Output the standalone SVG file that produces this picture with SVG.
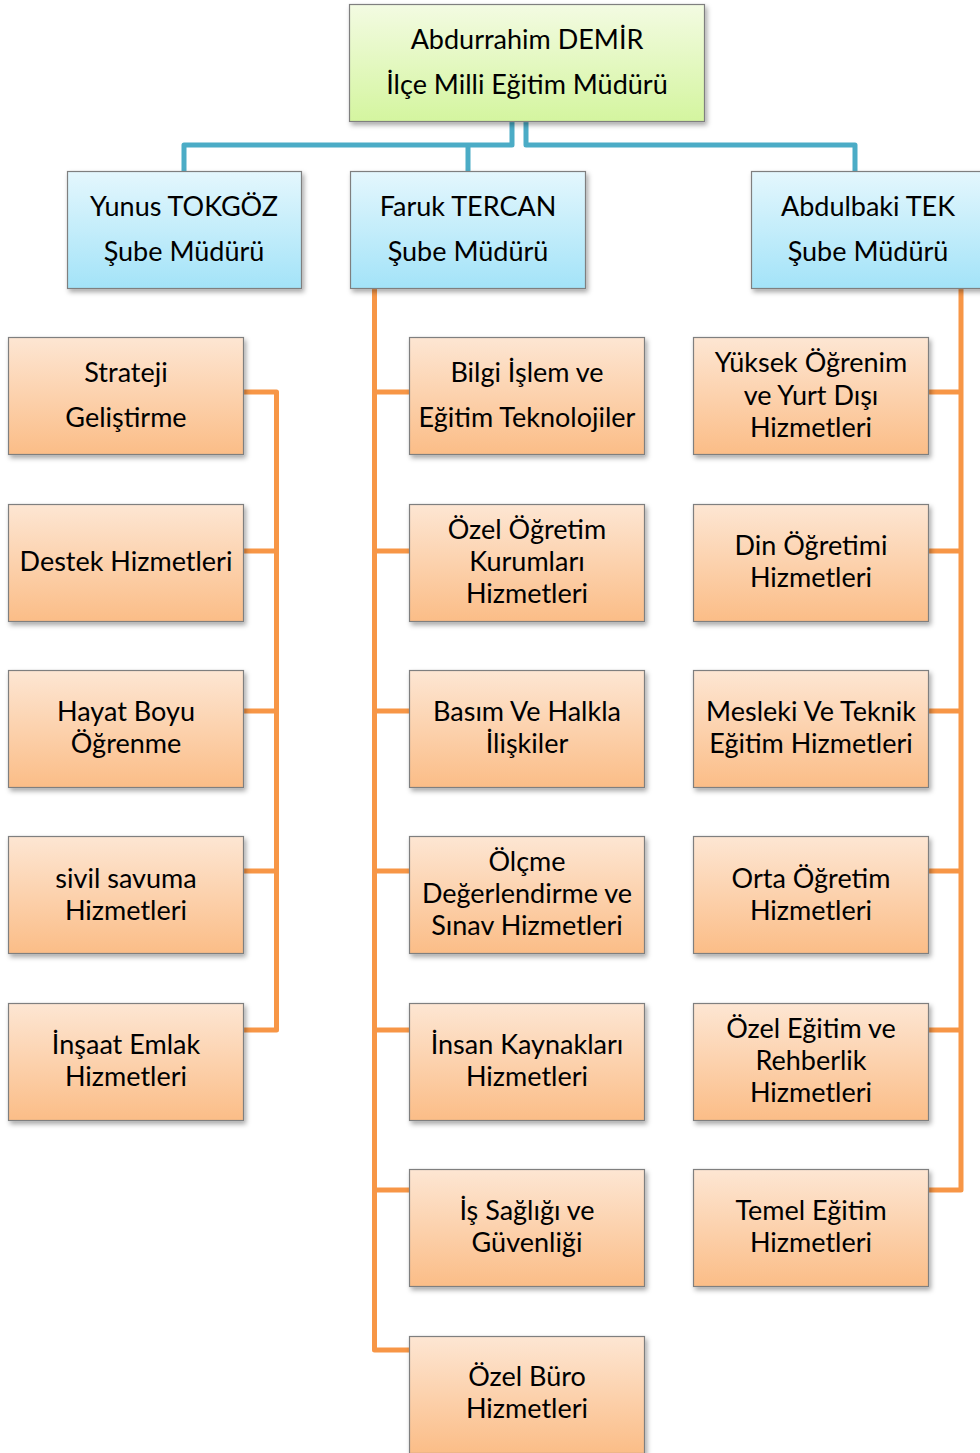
<svg xmlns="http://www.w3.org/2000/svg" width="980" height="1453" viewBox="0 0 980 1453">
<defs>
<linearGradient id="gG" x1="0" y1="0" x2="0" y2="1"><stop offset="0" stop-color="#f3fbe2"/><stop offset="1" stop-color="#d4f59f"/></linearGradient>
<linearGradient id="gB" x1="0" y1="0" x2="0" y2="1"><stop offset="0" stop-color="#e4f7fd"/><stop offset="1" stop-color="#a3e3f8"/></linearGradient>
<linearGradient id="gO" x1="0" y1="0" x2="0" y2="1"><stop offset="0" stop-color="#fde6d3"/><stop offset="1" stop-color="#fbbd87"/></linearGradient>
<filter id="sh" x="-10%" y="-10%" width="125%" height="135%"><feDropShadow dx="2" dy="3" stdDeviation="2.5" flood-color="#000" flood-opacity="0.35"/></filter>
</defs>
<style>
.box{stroke:#7f7f7f;stroke-width:1.2;filter:url(#sh)}
.g{fill:url(#gG)}.b{fill:url(#gB)}.o{fill:url(#gO)}
text{font-family:Lato,"Open Sans","Liberation Sans",sans-serif;font-size:27px;fill:#000;text-anchor:middle}
.cb{fill:none;stroke:#4bacc6;stroke-width:5;stroke-linejoin:round}
.co{fill:none;stroke:#f79646;stroke-width:5;stroke-linejoin:round}
</style>
<rect width="980" height="1453" fill="#fff"/>
<g id="connectors">
<path class="cb" d="M512,122V145H184V171M512,145H468V171M526,122V145H855V171"/>
<path class="co" d="M244,392H276.5V1030H244M244,551H276.5M244,711H276.5M244,871H276.5"/>
<path class="co" d="M374.5,289V1350H410M374.5,392H410M374.5,551H410M374.5,711H410M374.5,871H410M374.5,1030H410M374.5,1190H410"/>
<path class="co" d="M961,289V1190H928M928,392H961M928,551H961M928,711H961M928,871H961M928,1030H961"/>
</g>
<g id="n0"><rect class="box g" x="349.5" y="4.5" width="355" height="117"/><text x="527" y="49">Abdurrahim DEMİR</text><text x="527" y="94">İlçe Milli Eğitim Müdürü</text></g>
<g id="n1"><rect class="box b" x="67.5" y="171.5" width="234" height="117"/><text x="184" y="216">Yunus TOKGÖZ</text><text x="184" y="261">Şube Müdürü</text></g>
<g id="n2"><rect class="box b" x="350.5" y="171.5" width="235" height="117"/><text x="468" y="216">Faruk TERCAN</text><text x="468" y="261">Şube Müdürü</text></g>
<g id="n3"><rect class="box b" x="751.5" y="171.5" width="235" height="117"/><text x="868" y="216">Abdulbaki TEK</text><text x="868" y="261">Şube Müdürü</text></g>

<g id="l1"><rect class="box o" x="8.5" y="337.5" width="235" height="117"/><text x="126" y="382">Strateji</text><text x="126" y="427">Geliştirme</text></g>
<g id="l2"><rect class="box o" x="8.5" y="504.5" width="235" height="117"/><text x="126" y="571">Destek Hizmetleri</text></g>
<g id="l3"><rect class="box o" x="8.5" y="670.5" width="235" height="117"/><text x="126" y="721">Hayat Boyu</text><text x="126" y="753">Öğrenme</text></g>
<g id="l4"><rect class="box o" x="8.5" y="836.5" width="235" height="117"/><text x="126" y="888">sivil savuma</text><text x="126" y="920">Hizmetleri</text></g>
<g id="l5"><rect class="box o" x="8.5" y="1003.5" width="235" height="117"/><text x="126" y="1054">İnşaat Emlak</text><text x="126" y="1086">Hizmetleri</text></g>

<g id="m1"><rect class="box o" x="409.5" y="337.5" width="235" height="117"/><text x="527" y="382">Bilgi İşlem ve</text><text x="527" y="427">Eğitim Teknolojiler</text></g>
<g id="m2"><rect class="box o" x="409.5" y="504.5" width="235" height="117"/><text x="527" y="539">Özel Öğretim</text><text x="527" y="571">Kurumları</text><text x="527" y="603">Hizmetleri</text></g>
<g id="m3"><rect class="box o" x="409.5" y="670.5" width="235" height="117"/><text x="527" y="721">Basım Ve Halkla</text><text x="527" y="753">İlişkiler</text></g>
<g id="m4"><rect class="box o" x="409.5" y="836.5" width="235" height="117"/><text x="527" y="871">Ölçme</text><text x="527" y="903">Değerlendirme ve</text><text x="527" y="935">Sınav Hizmetleri</text></g>
<g id="m5"><rect class="box o" x="409.5" y="1003.5" width="235" height="117"/><text x="527" y="1054">İnsan Kaynakları</text><text x="527" y="1086">Hizmetleri</text></g>
<g id="m6"><rect class="box o" x="409.5" y="1169.5" width="235" height="117"/><text x="527" y="1220">İş Sağlığı ve</text><text x="527" y="1252">Güvenliği</text></g>
<g id="m7"><rect class="box o" x="409.5" y="1336.5" width="235" height="117"/><text x="527" y="1386">Özel Büro</text><text x="527" y="1418">Hizmetleri</text></g>

<g id="r1"><rect class="box o" x="693.5" y="337.5" width="235" height="117"/><text x="811" y="372">Yüksek Öğrenim</text><text x="811" y="405">ve Yurt Dışı</text><text x="811" y="437">Hizmetleri</text></g>
<g id="r2"><rect class="box o" x="693.5" y="504.5" width="235" height="117"/><text x="811" y="555">Din Öğretimi</text><text x="811" y="587">Hizmetleri</text></g>
<g id="r3"><rect class="box o" x="693.5" y="670.5" width="235" height="117"/><text x="811" y="721">Mesleki Ve Teknik</text><text x="811" y="753">Eğitim Hizmetleri</text></g>
<g id="r4"><rect class="box o" x="693.5" y="836.5" width="235" height="117"/><text x="811" y="888">Orta Öğretim</text><text x="811" y="920">Hizmetleri</text></g>
<g id="r5"><rect class="box o" x="693.5" y="1003.5" width="235" height="117"/><text x="811" y="1038">Özel Eğitim ve</text><text x="811" y="1070">Rehberlik</text><text x="811" y="1102">Hizmetleri</text></g>
<g id="r6"><rect class="box o" x="693.5" y="1169.5" width="235" height="117"/><text x="811" y="1220">Temel Eğitim</text><text x="811" y="1252">Hizmetleri</text></g>
</svg>
